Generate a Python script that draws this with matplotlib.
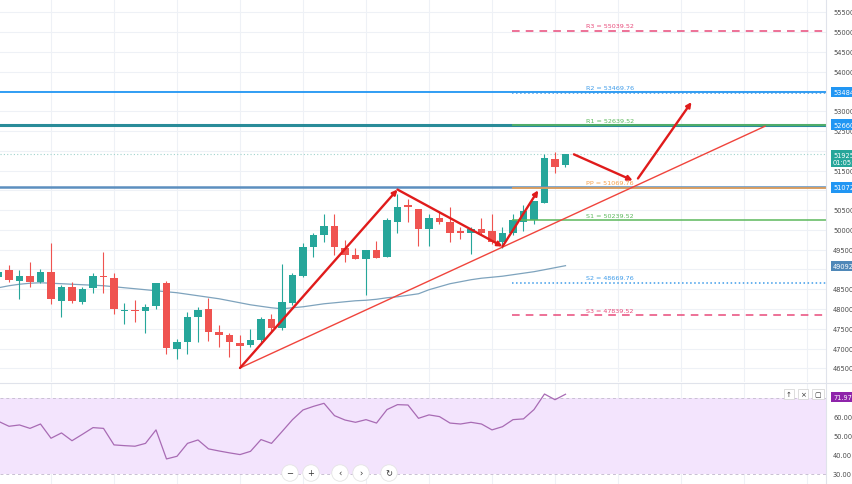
import numpy as np
import matplotlib
matplotlib.use('Agg')
import matplotlib.pyplot as plt

# candles (open, high, low, close)
opens = [48820, 48990, 48720, 48840, 48690, 48940, 48210, 48560, 48180, 48540,
         48840, 48790, 47960, 47980, 47960, 48080, 48660, 46990, 47170, 47800,
         48010, 47420, 47350, 47150, 47090, 47220, 47750, 47530, 48160, 48840,
         49580, 49860, 50110, 49550, 49370, 49270, 49500, 49320, 50210, 50620,
         50540, 50030, 50290, 50190, 49980, 49910, 50030, 49960, 49700, 49910,
         50190, 50240, 50690, 51780, 51630]
highs = [49040, 49120, 48990, 49200, 49020, 49680, 48610, 48690, 48560, 48920,
         49430, 48920, 48160, 48230, 48130, 48660, 48710, 47250, 47930, 48060,
         48290, 47600, 47400, 47350, 47500, 47800, 47880, 49150, 48920, 49680,
         49930, 50390, 50390, 49750, 49550, 49480, 49730, 50310, 50900, 50770,
         50540, 50390, 50440, 50590, 50080, 50080, 50310, 50390, 50080, 50410,
         50640, 50720, 51910, 51960, 51930]
lows = [48740, 48690, 48260, 48560, 48670, 48130, 47800, 48160, 48130, 48410,
        48410, 47880, 47630, 47680, 47400, 48010, 46870, 46740, 46870, 47170,
        47200, 47040, 46790, 46510, 47040, 47150, 47420, 47470, 48110, 48820,
        49320, 49700, 49370, 49200, 49270, 48360, 49300, 49320, 49930, 50210,
        49600, 49600, 50140, 49700, 49780, 49400, 49880, 49650, 49550, 49880,
        49960, 50140, 50690, 51450, 51600]
closes = [48940, 48740, 48840, 48690, 48940, 48260, 48560, 48210, 48510, 48840,
          48820, 48010, 47980, 47960, 48060, 48660, 47020, 47170, 47800, 47980,
          47420, 47350, 47170, 47070, 47220, 47750, 47530, 48180, 48870, 49580,
          49880, 50110, 49580, 49370, 49270, 49480, 49300, 50240, 50590, 50590,
          50030, 50290, 50210, 49930, 49910, 50030, 49930, 49700, 49910, 50240,
          50490, 50720, 51810, 51600, 51925]

# moving average
ma = [48538, 48589, 48627, 48652, 48665, 48652, 48640, 48627, 48614, 48602,
      48589, 48564, 48538, 48513, 48488, 48462, 48437, 48412, 48374, 48336,
      48298, 48260, 48209, 48158, 48107, 48069, 48032, 48006, 48032, 48057,
      48095, 48133, 48158, 48184, 48209, 48222, 48247, 48285, 48310, 48348,
      48386, 48488, 48564, 48640, 48690, 48741, 48779, 48804, 48830, 48868,
      48906, 48944, 48994, 49045, 49096]

rsi = [57.7, 55.1, 55.8, 54.0, 56.3, 48.8, 51.6, 47.5, 50.9, 54.4,
       54.0, 45.3, 44.9, 44.6, 46.1, 53.2, 37.9, 39.3, 46.1, 47.9,
       43.2, 42.1, 41.1, 40.2, 41.9, 48.1, 46.1, 52.3, 58.6, 63.7,
       65.6, 67.2, 60.7, 58.4, 57.2, 58.6, 56.8, 63.9, 66.5, 66.3,
       59.3, 61.1, 60.2, 56.8, 56.3, 57.2, 56.3, 53.2, 54.9, 58.6,
       59.0, 63.9, 72.1, 69.1, 71.97]

# pivot points
piv_names = ['R3', 'R2', 'R1', 'PP', 'S1', 'S2', 'S3']
piv_values = [55039.52, 53469.76, 52639.52, 51069.76, 50239.52, 48669.76, 47839.52]
piv_colors = ['#e84a7a', '#3d9be9', '#5cb85c', '#f5a04a', '#5cb85c', '#3d9be9', '#e84a7a']
piv_styles = [(0, (5, 4)), ':', '-', '-', '-', ':', (0, (5, 4))]

# horizontal levels with price tags
levels = [53484, 52660, 51072]
level_colors = ['#2196f3', '#2a8c99', '#5c8fbf']
level_widths = [1.3, 2.2, 1.8]
last_price = 51925
ma_last = 49092

# drawn arrows (candle index, price)
arrows = [((23.0, 46511), (38.0, 51020)),
          ((38.0, 51020), (48.0, 49580)),
          ((48.0, 49580), (51.4, 51000)),
          ((54.8, 51910), (60.4, 51250)),
          ((60.9, 51300), (66.0, 53230))]
trend = [(23.0, 46511), (73.0, 52620)]

# scale labels (the ones under price tags are hidden in the chart)
price_ticks = [46500, 47000, 47500, 48000, 48500, 49500, 50000, 50500,
               51500, 52500, 53000, 54000, 54500, 55000, 55500]
grid_ticks = list(range(46500, 56000, 500))
rsi_ticks = [30, 40, 50, 60]

W, H = 852, 485
fig = plt.figure(figsize=(W / 100, H / 100), dpi=100)
fig.patch.set_facecolor('white')

def fx(px):
    return px / W

def fy(py):
    return 1 - py / H

split = 383
ax = fig.add_axes([0, fy(split), fx(826), split / H])
ar = fig.add_axes([0, 0, fx(826), fy(split + 1)])
axp = fig.add_axes([fx(826), fy(split), fx(W - 826), split / H])
arp = fig.add_axes([fx(826), 0, fx(W - 826), fy(split + 1)])

xmin, xmax = 0.143, 78.81
ymin, ymax = 46156, 55836
rmin, rmax = 24.7, 77.9

for a in (ax, ar, axp, arp):
    for s in a.spines.values():
        s.set_visible(False)
    a.set_xticks([])
    a.set_yticks([])
ax.set_xlim(xmin, xmax)
ax.set_ylim(ymin, ymax)
ar.set_xlim(xmin, xmax)
ar.set_ylim(rmin, rmax)
axp.set_xlim(0, 1)
axp.set_ylim(ymin, ymax)
arp.set_xlim(0, 1)
arp.set_ylim(rmin, rmax)

# grid
grid_c = '#eef1f6'
for t in grid_ticks:
    ax.axhline(t, color=grid_c, lw=0.8, zorder=0)
for t in [40, 50, 60]:
    ar.axhline(t, color=grid_c, lw=0.8, zorder=0)
for v in np.arange(5, 80, 6):
    ax.axvline(v, color=grid_c, lw=0.8, zorder=0)
    ar.axvline(v, color=grid_c, lw=0.8, zorder=0)

# panel separators
fig.add_artist(plt.Line2D([0, 1], [fy(split + 0.5)] * 2, color='#e0e3eb', lw=0.8))
fig.add_artist(plt.Line2D([fx(826)] * 2, [0, 1], color='#e0e3eb', lw=0.8))

# candles
idx = np.arange(len(opens))
o = np.array(opens)
c = np.array(closes)
up = c >= o
colors = np.where(up, '#26a69a', '#ef5350')
ax.vlines(idx, lows, highs, colors=colors, lw=0.8, zorder=3)
body_h = np.maximum(np.abs(c - o), 25)
ax.bar(idx, body_h, bottom=np.minimum(o, c), width=0.68, color=colors, zorder=4, lw=0)

# moving average
ax.plot(idx, ma, color='#7ea3bd', lw=0.9, zorder=2)

# full width levels
for lv, col, lw in zip(levels, level_colors, level_widths):
    ax.axhline(lv, color=col, lw=lw, zorder=5)
ax.axhline(last_price, color='#9fd3cc', lw=0.8, ls=(0, (1, 2)), zorder=1)

# pivots
for name, val, col, st in zip(piv_names, piv_values, piv_colors, piv_styles):
    ax.hlines(val, 48.9, xmax, colors=col, lw=1.1, linestyles=st, zorder=5)
    ax.text(56.0, val + 60, '%s = %.2f' % (name, val), color=col, fontsize=4.6,
            ha='left', va='bottom', zorder=6)

# annotations
ax.plot([trend[0][0], trend[1][0]], [trend[0][1], trend[1][1]], color='#f0443c', lw=1.0, zorder=6)
for (x0, y0), (x1, y1) in arrows:
    ax.annotate('', xy=(x1, y1), xytext=(x0, y0),
                arrowprops=dict(arrowstyle='-|>', color='#e01b1b', lw=1.7,
                                mutation_scale=7, shrinkA=0, shrinkB=0), zorder=7)

# RSI panel
ar.axhspan(30, 70, color='#f3e4fd', zorder=0, lw=0)
for t in (30, 70):
    ar.axhline(t, color='#c9c0d3', lw=0.7, ls=(0, (3, 3)), zorder=1)
ar.plot(idx, rsi, color='#a86bb4', lw=0.9, zorder=3)

# price scale labels
lab_c = '#4a4a4a'
for t in price_ticks:
    axp.text(0.27, t, '%d.00' % t, fontsize=4.8, color=lab_c, va='center', ha='left', clip_on=False)
for t in rsi_ticks:
    arp.text(0.27, t, '%.2f' % t, fontsize=4.8, color=lab_c, va='center', ha='left', clip_on=False)

def tag(a, y, text, fc):
    a.text(0.27, y, text, fontsize=4.8, color='white', va='center', ha='left', clip_on=False,
           bbox=dict(boxstyle='square,pad=0.35', fc=fc, ec='none'), zorder=10)

tag(axp, levels[0], '%d.00' % levels[0], '#2196f3')
tag(axp, levels[1], '%d.00' % levels[1], '#2196f3')
tag(axp, levels[2], '%d.00' % levels[2], '#2196f3')
tag(axp, ma_last, '%d.00' % ma_last, '#4f88b8')
tag(axp, last_price - 120, '%d.00\n01:05:12' % last_price, '#26a69a')
tag(arp, rsi[-1] - 1.5, '%.2f' % rsi[-1], '#8e24aa')

# chart control buttons
btn = dict(boxstyle='circle,pad=0.45', fc='white', ec='#e4e4e4', lw=0.6)
for px, sym in zip([290, 311, 340, 361, 389], ['−', '+', '‹', '›', '↻']):
    fig.text(fx(px), fy(474), sym, fontsize=6, color='#333333', ha='center', va='center', bbox=btn)
box = dict(boxstyle='square,pad=0.35', fc='white', ec='#d8d8d8', lw=0.6)
for px, sym in zip([789, 803, 818], ['↑', '×', '▢']):
    fig.text(fx(px), fy(395), sym, fontsize=5, color='#333333', ha='center', va='center', bbox=box)

plt.savefig('out.png', dpi=100)
plt.close()
